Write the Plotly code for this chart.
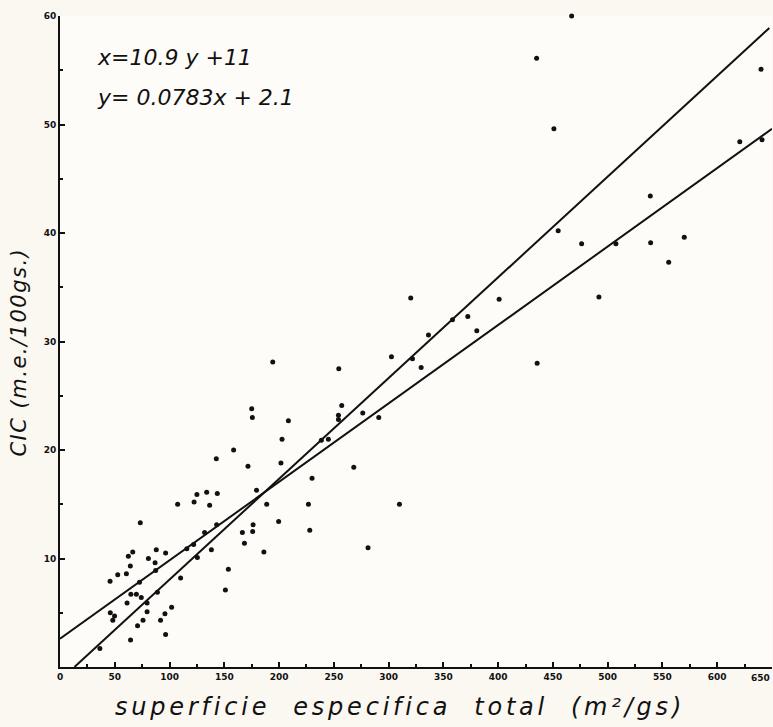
import plotly.graph_objects as go

# Scatter data: superficie especifica total (m2/gs) vs CIC (m.e./100gs)
sup_x = [467.1, 435.1, 640.0, 450.9, 620.6, 640.9, 538.9, 454.8, 476.2, 507.5,
         539.2, 569.9, 555.7, 400.9, 492.0, 320.2, 372.3, 380.5, 358.3, 336.4,
         302.6, 321.8, 329.7, 435.6, 194.2, 254.5, 175.0, 175.6, 208.5, 257.2,
         254.2, 254.2, 276.4, 291.0, 202.7, 245.0, 238.6, 158.5, 171.6, 201.7,
         268.2, 230.1, 142.7, 179.4, 188.7, 226.8, 309.9, 199.6, 176.3, 175.9,
         228.0, 186.1, 281.2, 107.4, 122.4, 125.0, 133.9, 143.6, 136.6, 73.3,
         166.5, 168.4, 132.0, 143.0, 115.8, 122.0, 138.2, 125.4, 87.9, 96.4,
         66.4, 62.4, 80.7, 64.2, 86.8, 87.3, 153.7, 60.6, 52.7, 45.7,
         72.6, 110.1, 151.0, 64.7, 69.7, 74.2, 88.9, 61.2, 79.5, 101.9,
         45.9, 49.8, 48.2, 79.5, 95.8, 70.8, 75.8, 91.8, 96.4, 64.4, 36.4]
cic_y = [60.0, 56.1, 55.1, 49.6, 48.4, 48.6, 43.4, 40.2, 39.0, 39.0,
         39.1, 39.6, 37.3, 33.9, 34.1, 34.0, 32.3, 31.0, 32.0, 30.6,
         28.6, 28.4, 27.6, 28.0, 28.1, 27.5, 23.8, 23.0, 22.7, 24.1,
         23.2, 22.8, 23.4, 23.0, 21.0, 21.0, 20.9, 20.0, 18.5, 18.8,
         18.4, 17.4, 19.2, 16.3, 15.0, 15.0, 15.0, 13.4, 13.1, 12.5,
         12.6, 10.6, 11.0, 15.0, 15.2, 15.9, 16.1, 16.0, 14.9, 13.3,
         12.4, 11.4, 12.4, 13.1, 10.9, 11.3, 10.8, 10.1, 10.8, 10.5,
         10.6, 10.2, 10.0, 9.3, 9.6, 8.9, 9.0, 8.6, 8.5, 7.9,
         7.8, 8.2, 7.1, 6.7, 6.7, 6.4, 6.9, 5.9, 5.9, 5.5,
         5.0, 4.7, 4.3, 5.1, 4.9, 3.8, 4.3, 4.3, 3.0, 2.5, 1.7]

# Regression lines as drawn (end points)
line_xy_x = [13.2, 647.6]   # x = 10.9 y + 11
line_xy_y = [0.0, 58.9]
line_yx_x = [0.0, 650.0]    # y = 0.0783 x + 2.1
line_yx_y = [2.6, 49.6]

x_ticks = list(range(0, 651, 50))
x_tick_text = [str(v) for v in x_ticks]
y_ticks = list(range(10, 61, 10))
y_tick_text = [str(v) for v in y_ticks]

eq1 = "x=10.9 y +11"
eq2 = "y= 0.0783x + 2.1"
x_title = "superficie\u00a0\u00a0especifica\u00a0\u00a0total\u00a0\u00a0(m\u00b2/gs)"
y_title = "CIC (m.e./100gs.)"

fig = go.Figure()
fig.add_trace(go.Scatter(x=line_xy_x, y=line_xy_y, mode="lines",
                         line=dict(color="#111", width=2), showlegend=False,
                         cliponaxis=False))
fig.add_trace(go.Scatter(x=line_yx_x, y=line_yx_y, mode="lines",
                         line=dict(color="#111", width=2), showlegend=False,
                         cliponaxis=False))
fig.add_trace(go.Scatter(x=sup_x, y=cic_y, mode="markers",
                         marker=dict(color="#111", size=5), showlegend=False,
                         cliponaxis=False))

tick_font = dict(family="DejaVu Sans", size=9, color="#111", weight="bold")
fig.update_layout(
    width=773, height=727,
    margin=dict(l=60, r=1, t=16, b=60, autoexpand=False),
    paper_bgcolor="#fbf8f1",
    plot_bgcolor="#fdfcf8",
    xaxis=dict(range=[0, 650], showgrid=False, zeroline=False, automargin=False,
               showline=True, linecolor="#111", linewidth=2,
               ticks="inside", ticklen=5, tickwidth=1.5, tickcolor="#111",
               tickvals=x_ticks, ticktext=x_tick_text, tickfont=tick_font,
               minor=dict(ticks="inside", ticklen=3, dtick=25, tickcolor="#111")),
    yaxis=dict(range=[0, 60], showgrid=False, zeroline=False, automargin=False,
               showline=True, linecolor="#111", linewidth=2,
               ticks="inside", ticklen=5, tickwidth=1.5, tickcolor="#111",
               tickvals=y_ticks, ticktext=y_tick_text, tickfont=tick_font,
               minor=dict(ticks="inside", ticklen=3, dtick=5, tickcolor="#111")),
    font=dict(family="DejaVu Sans", color="#111"),
)

# last x tick label sits at the right edge, as in the reference
fig.add_annotation(xref="x", yref="paper", x=x_ticks[-1], y=-0.006, text=x_tick_text[-1],
                   showarrow=False, xanchor="right", yanchor="top", font=tick_font)

eq_font = dict(family="DejaVu Sans", size=22, color="#111", style="italic")
fig.add_annotation(xref="paper", yref="paper", x=0.049, y=0.937, text=eq1,
                   showarrow=False, xanchor="left", yanchor="middle", font=eq_font)
fig.add_annotation(xref="paper", yref="paper", x=0.049, y=0.875, text=eq2,
                   showarrow=False, xanchor="left", yanchor="middle", font=eq_font)
fig.add_annotation(xref="paper", yref="paper", x=0.4775, y=-0.062,
                   text='<span style="letter-spacing:3.8px">' + x_title + '</span>',
                   showarrow=False, xanchor="center", yanchor="middle",
                   font=dict(family="DejaVu Sans", size=24, color="#111", style="italic"))
fig.add_annotation(xref="paper", yref="paper", x=-0.058, y=0.484,
                   text='<span style="letter-spacing:1.5px">' + y_title + '</span>',
                   showarrow=False, textangle=-90, xanchor="center", yanchor="middle",
                   font=dict(family="DejaVu Sans", size=21, color="#111", style="italic"))

fig.write_html("out.html", config={"displayModeBar": False},
               post_script="document.body.style.margin='0';document.body.style.overflow='hidden';")
